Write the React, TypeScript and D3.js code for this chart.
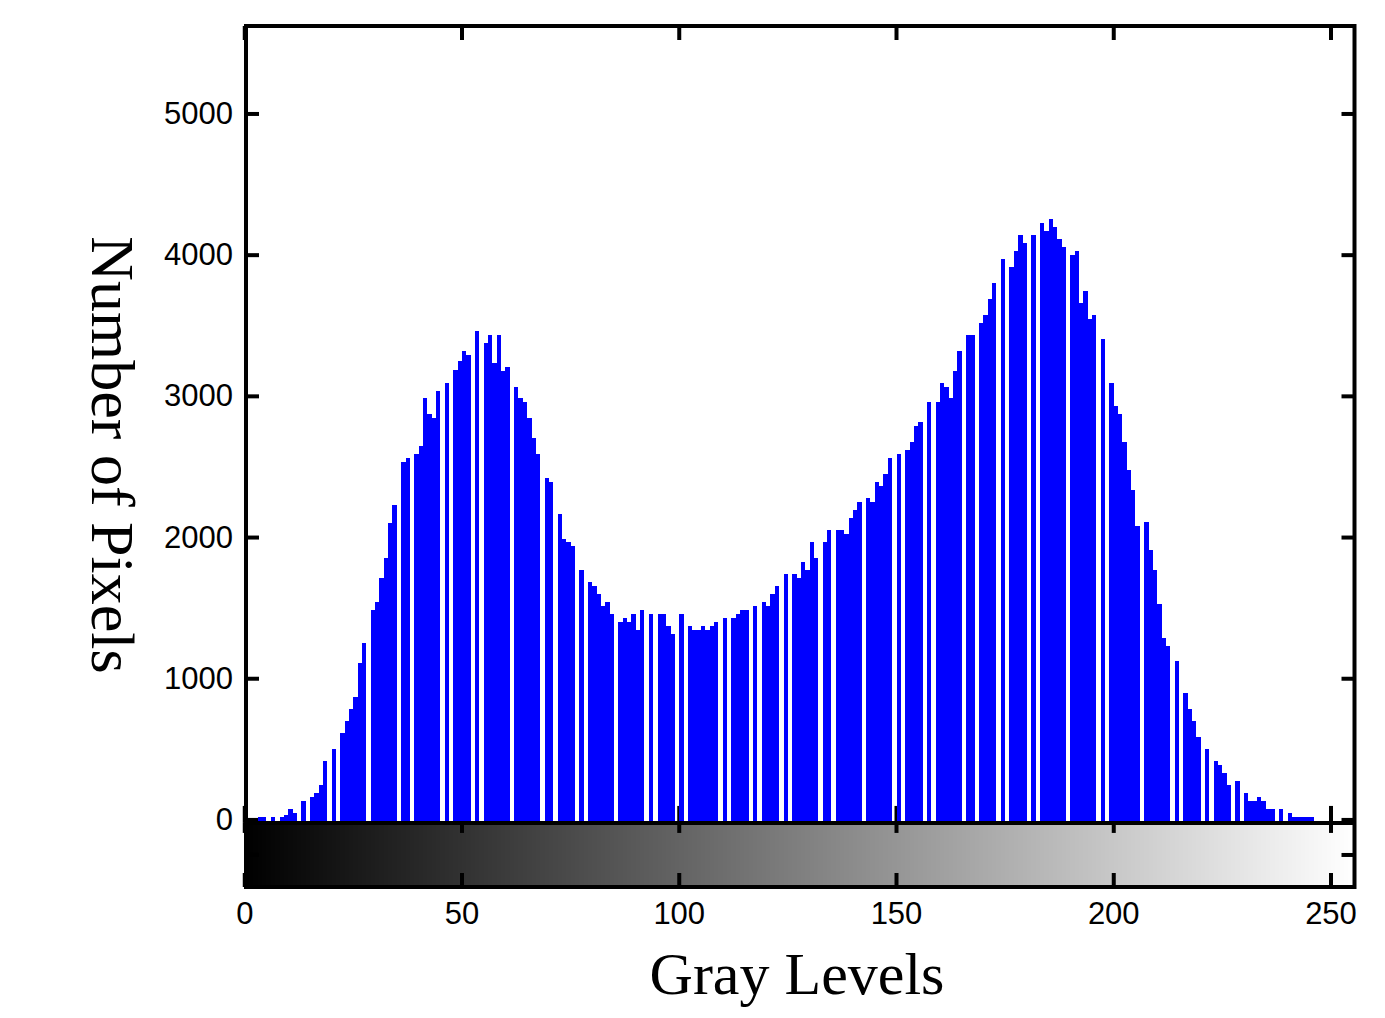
import React from 'react';
import * as d3 from 'd3';

const W = 1385;
const H = 1018;

// gray levels 0..255 and the pixel count read for each one
const grayLevels = d3.range(256);
const pixelCounts = [
  0, 0, 0, 21, 21, 0, 21, 0, 21, 35,
  78, 50, 0, 135, 0, 163, 191, 248, 418, 0,
  503, 0, 616, 701, 786, 871, 1110, 1250, 0, 1487,
  1544, 1714, 1856, 2100, 2230, 0, 2535, 2564, 0, 2592,
  2649, 2989, 2875, 2847, 3038, 0, 3095, 0, 3190, 3250,
  3321, 3293, 0, 3463, 0, 3378, 3435, 3237, 3435, 3180,
  3208, 0, 3067, 2989, 2960, 2847, 2705, 2592, 0, 2422,
  2394, 0, 2167, 1990, 1969, 1941, 0, 1771, 0, 1686,
  1657, 1600, 1516, 1544, 1459, 0, 1402, 1431, 1402, 1459,
  1346, 1487, 0, 1459, 0, 1459, 1459, 1374, 1317, 0,
  1459, 0, 1374, 1346, 1346, 1374, 1346, 1374, 1402, 0,
  1431, 0, 1431, 1459, 1487, 1487, 0, 1516, 0, 1544,
  1516, 1601, 1657, 0, 1742, 0, 1742, 1714, 1827, 1771,
  1969, 1856, 0, 1969, 2054, 0, 2054, 2054, 2025, 2139,
  2195, 2252, 0, 2280, 2252, 2394, 2365, 2450, 2564, 0,
  2592, 0, 2620, 2677, 2790, 2819, 0, 2960, 0, 2960,
  3095, 3067, 2989, 3180, 3321, 0, 3435, 3435, 0, 3520,
  3576, 3690, 3803, 0, 3973, 0, 3916, 4030, 4143, 4086,
  0, 4143, 0, 4228, 4171, 4256, 4200, 4115, 4058, 0,
  4001, 4030, 3661, 3746, 3548, 3576, 0, 3406, 0, 3095,
  2932, 2875, 2677, 2479, 2337, 2082, 0, 2110, 1912, 1771,
  1530, 1289, 1232, 0, 1126, 0, 899, 786, 701, 588,
  0, 503, 0, 418, 390, 333, 248, 0, 276, 0,
  191, 135, 135, 163, 135, 78, 78, 0, 78, 0,
  50, 21, 21, 21, 21, 21, 0, 0, 0, 0,
  0, 0, 0, 0, 0, 0,
];
const xTicks = [0, 50, 100, 150, 200, 250];
const yTicks = [0, 1000, 2000, 3000, 4000, 5000];

const x = d3.scaleLinear().domain([0, 255.5]).range([244.75, 1354.9]);
const y = d3.scaleLinear().domain([-475, 5623]).range([887, 26]);

const App = () => {
  const left = x(0) + 1.25;
  const right = x(255.5) - 0.4;
  const top = y(5623);
  const bottom = y(-475);
  const base = y(0) + 3; // line between histogram and gray bar
  const bandMid = (base + bottom) / 2;
  const tick = 13;
  const sans = '"Liberation Sans", Arial, sans-serif';
  const serif = '"Liberation Serif", "Times New Roman", serif';

  return (
    <svg
      width={W}
      height={H}
      style={{ position: 'absolute', left: 0, top: 0, background: '#fff' }}
    >
      <clipPath id="plot">
        <rect x={left} y={top} width={right - left} height={bottom - top} />
      </clipPath>

      {/* gray level strip */}
      <g clipPath="url(#plot)" shapeRendering="crispEdges">
        {grayLevels.map((g) => (
          <rect
            key={'g' + g}
            x={x(g)}
            y={base}
            width={x(g + 1) - x(g)}
            height={bottom - base}
            fill={`rgb(${g},${g},${g})`}
          />
        ))}
      </g>

      {/* ticks hidden under bars */}
      <g stroke="#000" strokeWidth={4}>
        {xTicks.map((t) => (
          <g key={'xt' + t}>
            <line x1={x(t)} x2={x(t)} y1={top} y2={top + tick + 1} />
            <line x1={x(t)} x2={x(t)} y1={base} y2={base - 17} />
            <line x1={x(t)} x2={x(t)} y1={base} y2={base + 10} />
            <line x1={x(t)} x2={x(t)} y1={bottom} y2={bottom - 14} />
          </g>
        ))}
        {yTicks.map((t) => (
          <g key={'yt' + t}>
            <line x1={left} x2={left + tick} y1={y(t)} y2={y(t)} />
            <line x1={right} x2={right - tick} y1={y(t)} y2={y(t)} />
          </g>
        ))}
        <line x1={left} x2={left + tick} y1={bandMid} y2={bandMid} />
        <line x1={right} x2={right - tick} y1={bandMid} y2={bandMid} />
      </g>

      {/* histogram bars */}
      <g shapeRendering="crispEdges" fill="#0000ff">
        {grayLevels.map((g) =>
          pixelCounts[g] > 0 ? (
            <rect
              key={'b' + g}
              x={x(g)}
              y={y(pixelCounts[g])}
              width={x(g + 1) - x(g)}
              height={y(0) + 2 - y(pixelCounts[g])}
            />
          ) : null
        )}
      </g>

      {/* frame */}
      <g stroke="#000" strokeWidth={4} fill="none">
        <rect x={left} y={top} width={right - left} height={bottom - top} />
        <line x1={left} x2={right} y1={base} y2={base} />
      </g>

      {/* tick labels */}
      <g fontFamily={sans} fontSize={31} fill="#000">
        {yTicks.map((t) => (
          <text key={'yl' + t} x={233} y={y(t) + 10} textAnchor="end">
            {t}
          </text>
        ))}
        {xTicks.map((t) => (
          <text key={'xl' + t} x={x(t)} y={924} textAnchor="middle">
            {t}
          </text>
        ))}
      </g>

      <text
        x={797}
        y={994}
        textAnchor="middle"
        fontFamily={serif}
        fontSize={60}
        fill="#000"
      >
        Gray Levels
      </text>
      <text
        transform="translate(92,455) rotate(90)"
        textAnchor="middle"
        fontFamily={serif}
        fontSize={62}
        fill="#000"
      >
        Number of Pixels
      </text>
    </svg>
  );
};

export default App;
